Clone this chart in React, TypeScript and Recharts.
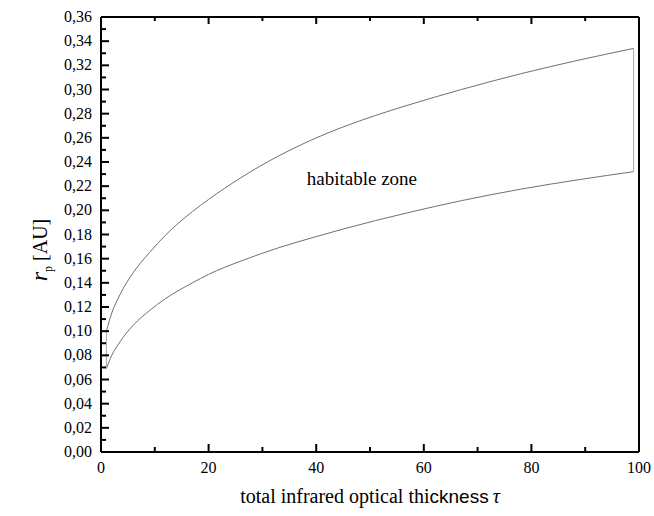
import {
  LineChart, Line, XAxis, YAxis, ReferenceDot,
} from "recharts";

// values
const tau = [1, 2, 3.5, 6, 9, 12, 17, 20, 26, 33, 39, 45, 51, 57, 67, 78, 89, 99];
const upperEdge = [0.100, 0.115, 0.130, 0.1485, 0.165, 0.1795, 0.199, 0.209, 0.227, 0.245, 0.258, 0.269, 0.2785, 0.287, 0.300, 0.313, 0.3245, 0.334];
const lowerEdge = [0.069, 0.080, 0.091, 0.105, 0.117, 0.127, 0.140, 0.147, 0.158, 0.169, 0.177, 0.1845, 0.1915, 0.198, 0.208, 0.2175, 0.2255, 0.232];

const xTicks = [0, 10, 20, 30, 40, 50, 60, 70, 80, 90, 100];
const xLabels = [0, 20, 40, 60, 80, 100];
const yTicks = Array.from({ length: 37 }, (_, i) => i / 100);

const SERIF = '"Liberation Serif", "Times New Roman", serif';
const SANS = '"Liberation Sans", Arial, sans-serif';

const rows = tau.map((t, i) => ({ tau: t, upper: upperEdge[i], lower: lowerEdge[i] }));
const last = tau.length - 1;
const leftSide = [
  { tau: tau[0], v: lowerEdge[0] },
  { tau: tau[0], v: upperEdge[0] },
];
const rightSide = [
  { tau: tau[last], v: lowerEdge[last] },
  { tau: tau[last], v: upperEdge[last] },
];

const isMajorX = (v: number) => xLabels.includes(v);
const isMajorY = (v: number) => Math.round(v * 100) % 2 === 0;

const BottomTick = (p: any) => {
  const v = p.payload.value;
  const len = isMajorX(v) ? 8 : 5;
  return (
    <g>
      <line x1={p.x} x2={p.x} y1={p.y} y2={p.y - len} stroke="#000" strokeWidth={2} />
      {isMajorX(v) && (
        <text x={p.x} y={p.y + 21} textAnchor="middle" style={{ fontFamily: SERIF, fontSize: 16 }} fill="#000">
          {v}
        </text>
      )}
    </g>
  );
};

const TopTick = (p: any) => {
  const len = isMajorX(p.payload.value) ? 7 : 4;
  return <line x1={p.x} x2={p.x} y1={p.y} y2={p.y + len} stroke="#000" strokeWidth={2} />;
};

const LeftTick = (p: any) => {
  const v = p.payload.value;
  const len = isMajorY(v) ? 8 : 5;
  return (
    <g>
      <line x1={p.x} x2={p.x + len} y1={p.y} y2={p.y} stroke="#000" strokeWidth={2} />
      {isMajorY(v) && (
        <text x={p.x - 9} y={p.y + 5} textAnchor="end" style={{ fontFamily: SERIF, fontSize: 16 }} fill="#000">
          {v.toFixed(2).replace(".", ",")}
        </text>
      )}
    </g>
  );
};

const RightTick = (p: any) => {
  const len = isMajorY(p.payload.value) ? 8 : 5;
  return <line x1={p.x} x2={p.x - len} y1={p.y} y2={p.y} stroke="#000" strokeWidth={2} />;
};

const XTitle = (p: any) => {
  const vb = p.viewBox;
  return (
    <text x={vb.x + vb.width / 2} y={vb.y + 51} textAnchor="middle" style={{ fontFamily: SERIF, fontSize: 20 }} fill="#000">
      total infrared optical thi
      <tspan style={{ fontFamily: SANS, fontSize: 19 }}>ckness</tspan>
      <tspan style={{ fontStyle: "italic" }} dx={4}>τ</tspan>
    </text>
  );
};

const YTitle = () => (
  <text
    x={47}
    y={250}
    transform="rotate(-90, 47, 250)"
    textAnchor="middle"
    style={{ fontFamily: SERIF, fontSize: 20 }}
    fill="#000"
  >
    <tspan style={{ fontStyle: "italic", fontSize: 24 }}>r</tspan>
    <tspan style={{ fontSize: 12 }} dy={5}>p</tspan>
    <tspan dy={-5}> [AU]</tspan>
  </text>
);

const ZoneLabel = (p: any) => {
  const vb = p.viewBox;
  return (
    <text x={vb.x + vb.width / 2} y={vb.y + vb.height / 2 + 6} textAnchor="middle" style={{ fontFamily: SERIF, fontSize: 19 }} fill="#000">
      habitable zone
    </text>
  );
};

export default function App() {
  return (
    <div style={{ position: "absolute", left: 0, top: 0, background: "#fff" }}>
      <LineChart width={654} height={516} data={rows} margin={{ top: 0, right: 0, bottom: 0, left: 0 }}>
        <XAxis
          xAxisId={0}
          dataKey="tau"
          type="number"
          domain={[0, 100]}
          ticks={xTicks}
          interval={0}
          height={64}
          tickSize={0}
          tickMargin={0}
          tickLine={false}
          axisLine={{ stroke: "#000", strokeWidth: 2 }}
          tick={<BottomTick />}
          label={<XTitle />}
        />
        <XAxis
          xAxisId="top"
          orientation="top"
          dataKey="tau"
          type="number"
          domain={[0, 100]}
          ticks={xTicks}
          interval={0}
          height={17}
          tickSize={0}
          tickMargin={0}
          tickLine={false}
          axisLine={{ stroke: "#000", strokeWidth: 2 }}
          tick={<TopTick />}
        />
        <YAxis
          yAxisId={0}
          type="number"
          domain={[0, 0.36]}
          ticks={yTicks}
          interval={0}
          width={101}
          tickSize={0}
          tickMargin={0}
          tickLine={false}
          axisLine={{ stroke: "#000", strokeWidth: 2 }}
          tick={<LeftTick />}
          label={<YTitle />}
        />
        <YAxis
          yAxisId="right"
          orientation="right"
          type="number"
          domain={[0, 0.36]}
          ticks={yTicks}
          interval={0}
          width={15}
          tickSize={0}
          tickMargin={0}
          tickLine={false}
          axisLine={{ stroke: "#000", strokeWidth: 2 }}
          tick={<RightTick />}
        />

        <Line dataKey="upper" type="monotone" stroke="#707070" strokeWidth={1} dot={false} isAnimationActive={false} />
        <Line dataKey="lower" type="monotone" stroke="#707070" strokeWidth={1} dot={false} isAnimationActive={false} />
        <Line data={leftSide} dataKey="v" type="linear" stroke="#a8a8a8" strokeWidth={1} dot={false} isAnimationActive={false} />
        <Line data={rightSide} dataKey="v" type="linear" stroke="#a8a8a8" strokeWidth={1} dot={false} isAnimationActive={false} />

        <ReferenceDot
          x={48.5}
          y={0.226}
          r={0}
          fill="none"
          stroke="none"
          label={<ZoneLabel />}
        />
      </LineChart>
    </div>
  );
}
